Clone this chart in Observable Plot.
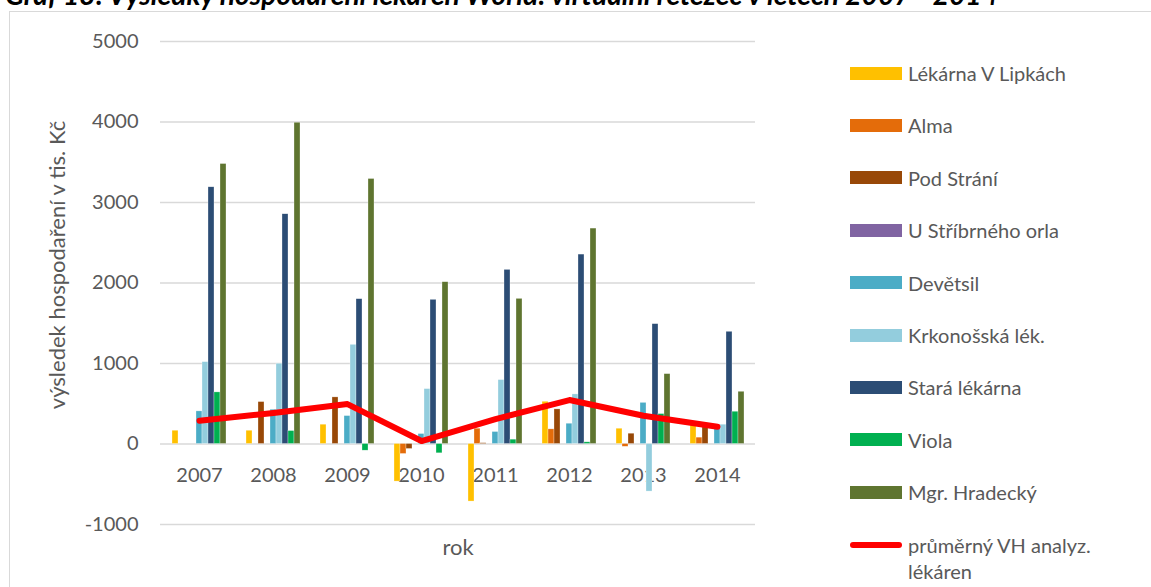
<!DOCTYPE html>
<html>
<head>
<meta charset="utf-8">
<script src="https://cdn.jsdelivr.net/npm/d3@7"></script>
<script src="https://cdn.jsdelivr.net/npm/@observablehq/plot@0.6"></script>
<style>
  body { margin: 0; background: #fff; font-family: Lato, "Open Sans", sans-serif; }
  #wrap { position: relative; width: 1151px; height: 587px; overflow: hidden; background: #fff; }
  #box { position: absolute; left: 9px; top: 11px; width: 1300px; height: 800px; border: 1.5px solid #d9d9d9; box-sizing: border-box; }
  .layer { position: absolute; left: 0; top: 0; }
  .legrow { position: absolute; left: 850px; display: flex; align-items: flex-start; font-size: 20px; line-height: 26px; color: #595959; }
  .sw { width: 52px; height: 13px; margin-top: 6.5px; margin-right: 6px; flex: none; }
  .swl { width: 52px; height: 6px; margin-top: 10px; margin-right: 6px; flex: none; border-radius: 3px; background: #ff0000; }
</style>
</head>
<body>
<div id="wrap">
  <div id="box"></div>
  <svg class="layer" width="1151" height="587" id="texts"></svg>
  <div class="layer" id="pA"></div>
  <div class="layer" id="pB"></div>
  <div class="layer" id="pC"></div>
  <div id="legend"></div>
</div>
<script>
// ---- data ----
const years = ["2007", "2008", "2009", "2010", "2011", "2012", "2013", "2014"];
const series = ["Lékárna V Lipkách", "Alma", "Pod Strání", "U Stříbrného orla", "Devětsil", "Krkonošská lék.", "Stará lékárna", "Viola", "Mgr. Hradecký"];
const colors = ["#ffc000", "#e46c0a", "#984807", "#8064a2", "#4bacc6", "#93cddd", "#2c4d75", "#00b050", "#5f7530"];
const lipkach      = [165, 165, 240, -467, -715, 525, 190, 240];
const alma         = [0, 0, 0, -124, 190, 182, -35, 79];
const podStrani    = [0, 521, 579, -62, 10, 430, 128, 207];
const uStribrneho  = [0, 0, 0, 0, 0, 0, 0, 0];
const devetsil     = [405, 426, 347, 124, 149, 252, 511, 199];
const krkonosska   = [1017, 997, 1232, 682, 794, 616, -591, 240];
const staraLekarna = [3189, 2854, 1799, 1791, 2163, 2353, 1489, 1394];
const viola        = [641, 161, -83, -116, 54, 21, 372, 401];
const hradecky     = [3478, 3991, 3292, 2010, 1803, 2676, 868, 649];
const prumer       = [290, 385, 496, 37, 310, 546, 351, 215];
const lineName = "průměrný VH analyz. lékáren";
const yTicks = [-1000, 0, 1000, 2000, 3000, 4000, 5000];
const titleText = "Graf 13: Výsledky hospodaření lékáren World: virtuální řetězec v letech 2007 - 2014";
const yLabel = "výsledek hospodaření v tis. Kč";
const xLabel = "rok";

const seriesValues = [lipkach, alma, podStrani, uStribrneho, devetsil, krkonosska, staraLekarna, viola, hradecky];
const rows = years.flatMap((yr, i) => series.map((s, j) => ({year: yr, series: s, value: seriesValues[j][i]})));

const W = 780, H = 587;
const frame = {width: W, height: H, marginLeft: 160, marginRight: 25, marginTop: 41, marginBottom: 63};
const yDom = [-1000, 5000];

// background: grid, y ticks, category labels
const pA = Plot.plot({
  ...frame,
  style: {fontFamily: "Lato, sans-serif", fontSize: "20px", color: "#595959", background: "transparent"},
  x: {type: "point", domain: years, padding: 0.5, axis: null},
  y: {domain: yDom, ticks: yTicks, tickSize: 0, tickPadding: 22, tickFormat: d => String(d), label: null},
  marks: [
    Plot.ruleY(yTicks, {stroke: "#d9d9d9", strokeWidth: 1.5}),
    Plot.text(years, {x: d => d, y: () => 0, dy: 32, fill: "#595959", fontSize: 20})
  ]
});
document.getElementById("pA").appendChild(pA);

// bars
const pB = Plot.plot({
  ...frame,
  style: {background: "transparent"},
  facet: {data: rows, x: "year"},
  fx: {domain: years, paddingInner: 0.1667, paddingOuter: 0.0833, axis: null, label: null},
  x: {domain: series, padding: 0, axis: null},
  y: {domain: yDom, axis: null},
  color: {domain: series, range: colors},
  marks: [
    Plot.barY(rows, {x: "series", y: "value", fill: "series", stroke: "#ffffff", strokeOpacity: 0.6, strokeWidth: 0.5, inset: 0})
  ]
});
document.getElementById("pB").appendChild(pB);

// average line
const pC = Plot.plot({
  ...frame,
  style: {background: "transparent"},
  x: {type: "point", domain: years, padding: 0.5, axis: null},
  y: {domain: yDom, axis: null},
  marks: [
    Plot.line(years, {x: d => d, y: (d, i) => prumer[i], stroke: "#ff0000", strokeWidth: 6, strokeLinecap: "round", strokeLinejoin: "round"})
  ]
});
document.getElementById("pC").appendChild(pC);

// texts: title, axis titles
const svg = d3.select("#texts");
svg.append("text").attr("x", 5).attr("y", 4.5)
  .attr("font-family", "Lato, sans-serif").attr("font-size", 28).attr("font-weight", "bold").attr("font-style", "italic")
  .attr("textLength", 993).attr("lengthAdjust", "spacingAndGlyphs")
  .attr("fill", "#000").text(titleText);
svg.append("text").attr("transform", "translate(65,265) rotate(-90)").attr("text-anchor", "middle")
  .attr("font-family", "Lato, sans-serif").attr("font-size", 22).attr("fill", "#595959").text(yLabel);
svg.append("text").attr("x", 458).attr("y", 555).attr("text-anchor", "middle")
  .attr("font-family", "Lato, sans-serif").attr("font-size", 22).attr("fill", "#595959").text(xLabel);

// legend
const leg = d3.select("#legend");
const legItems = series.map((s, j) => ({name: s, color: colors[j], line: false})).concat([{name: lineName, color: "#ff0000", line: true}]);
legItems.forEach((it, i) => {
  const row = leg.append("div").attr("class", "legrow").style("top", (73 + 52.4 * i - 13) + "px");
  row.append("div").attr("class", it.line ? "swl" : "sw").style("background", it.color);
  row.append("div").style("width", "235px").text(it.name);
});
</script>
</body>
</html>
